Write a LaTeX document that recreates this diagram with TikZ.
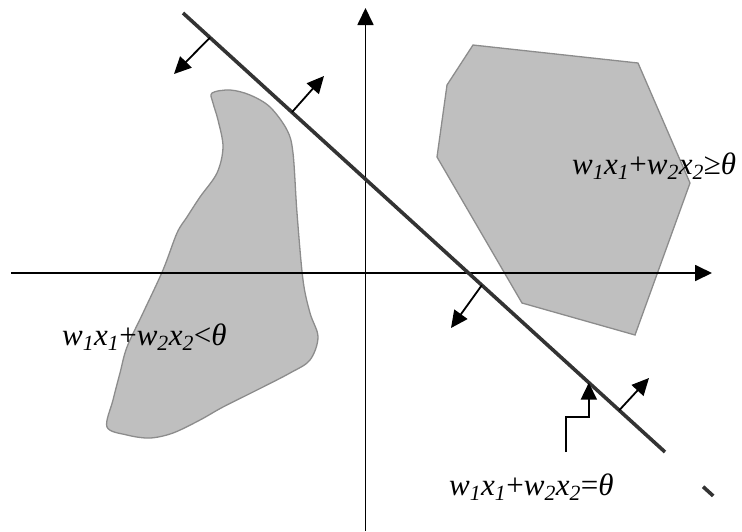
\documentclass[tikz,border=0pt]{standalone}
\usepackage{fontspec}
\setmainfont{Liberation Serif}
\usetikzlibrary{arrows.meta, calc}

\newcommand{\sumapesos}[1]{\textit{w\textsubscript{1}x\textsubscript{1}}+\textit{w\textsubscript{2}x\textsubscript{2}}#1\textit{θ}}

\begin{document}
\begin{tikzpicture}[x=1pt, y=-1pt,
    eje/.style={-{Triangle[length=17pt,width=16pt]}, line width=1.8pt},
    frontera/.style={line width=3.6pt, draw=black!80},
    normal/.style={-{Triangle[length=17pt,width=16pt]}, line width=1.8pt},
    region/.style={fill=black!25, draw=black!45, line width=1.3pt},
    etiqueta/.style={anchor=base west, inner sep=0pt,
        font=\fontsize{31}{33}\selectfont}
]
\useasboundingbox (0,0) rectangle (742,531);

% Regiones sombreadas
\fill[region] plot[smooth cycle, tension=0.55] coordinates {
    (212,93) (230,90) (250,95) (270,107) (287,130) (293,153) (297,213)
    (303,280) (310,313) (318,337) (310,360) (290,373) (257,390) (223,407)
    (200,420) (173,433) (150,438) (127,435) (107,427) (113,400) (120,373)
    (127,347) (143,313) (163,270) (177,233) (187,217) (200,197) (217,173)
    (223,147) (218,120) (213,103)};
\filldraw[region] (473,45) -- (638,63) -- (690,183) -- (635,335)
    -- (522,303) -- (437,157) -- (447,85) -- cycle;

% Ejes
\coordinate (x0) at (11,273);
\coordinate (x1) at (712,273);
\coordinate (y0) at (365.5,531);
\coordinate (y1) at (365.5,8);
\draw[eje] (x0) -- (x1);
\draw[eje] (y0) -- (y1);

% Recta de decision
\coordinate (r0) at (183,13);
\coordinate (r1) at (665,452);
\draw[frontera] (r0) -- (r1);
\draw[frontera] ($(r0)!1.079!(r1)$) -- ($(r0)!1.1!(r1)$);

% Flechas normales
\coordinate (n1) at ($(r0)!0.056!(r1)$);
\coordinate (n2) at ($(r0)!0.226!(r1)$);
\coordinate (n3) at ($(r0)!0.62!(r1)$);
\coordinate (n4) at ($(r0)!0.905!(r1)$);
\coordinate (m1) at (174,74);
\coordinate (m2) at (324,76);
\coordinate (m3) at (451,328);
\coordinate (m4) at (649,378);
\draw[normal] (n1) -- (m1);
\draw[normal] (n2) -- (m2);
\draw[normal] (n3) -- (m3);
\draw[normal] (n4) -- (m4);

% Etiquetas
\node[etiqueta] (mayor) at (572,174) {\sumapesos{≥}};
\node[etiqueta] (menor) at (62,345) {\sumapesos{<}};
\node[etiqueta] (igual) at (449,495) {\sumapesos{=}};

% Flecha hacia la recta
\coordinate (p0) at (566,452);
\coordinate (p1) at ($(r0)!0.842!(r1)$);
\draw[normal] (p0) -- ++(0,-35) -| (p1);

\end{tikzpicture}
\end{document}
